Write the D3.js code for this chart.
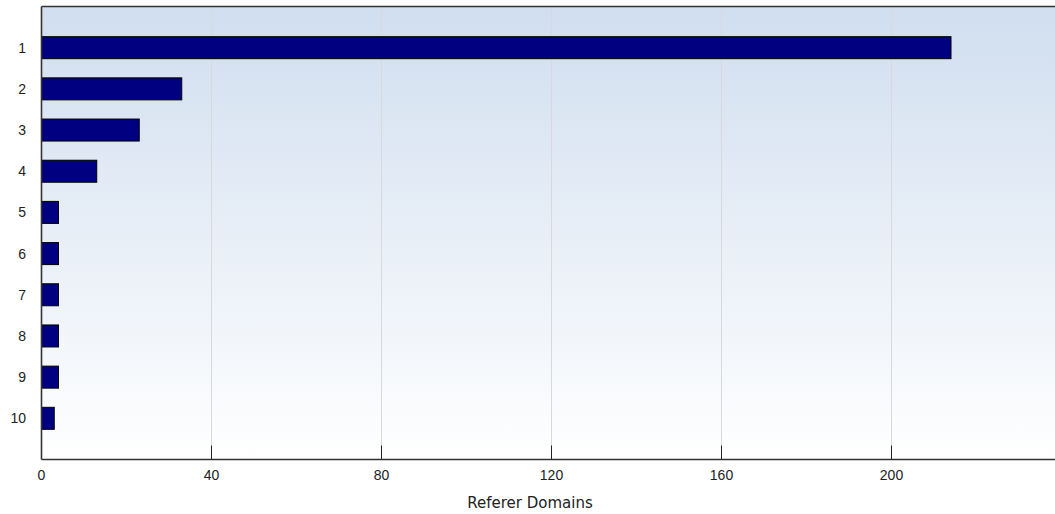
<!DOCTYPE html>
<html><head><meta charset="utf-8">
<script src="https://cdn.jsdelivr.net/npm/d3@7"></script>
<style>html,body{margin:0;padding:0;background:#fff;overflow:hidden}</style>
</head><body>
<svg id="c" width="1055" height="514"></svg>
<script>
const categories = ["1","2","3","4","5","6","7","8","9","10"];
const values = [214, 33, 23, 13, 4, 4, 4, 4, 4, 3];
const xTicks = [0, 40, 80, 120, 160, 200];
const xTitle = "Referer Domains";

const svg = d3.select("#c");
const pL = 41.5, pT = 6.5, pB = 459.5, pR = 1061.5;
const x = d3.scaleLinear().domain([0, 240]).range([pL, pR]);
const y = d3.scalePoint().domain(categories).range([pT, pB]).padding(1);

const defs = svg.append("defs");
const g = defs.append("linearGradient").attr("id","bg").attr("x1",0).attr("y1",0).attr("x2",0).attr("y2",1);
g.append("stop").attr("offset","0%").attr("stop-color","#d0deef");
g.append("stop").attr("offset","100%").attr("stop-color","#ffffff");

svg.append("rect").attr("x",pL).attr("y",pT).attr("width",pR-pL).attr("height",pB-pT).attr("fill","url(#bg)");

// gridlines
svg.append("g").selectAll("line").data(xTicks.slice(1)).join("line")
  .attr("x1",d=>x(d)).attr("x2",d=>x(d)).attr("y1",pT).attr("y2",pB)
  .attr("stroke","#d6d9de").attr("stroke-width",1);
// tick marks
svg.append("g").selectAll("line").data(xTicks.slice(1)).join("line")
  .attr("x1",d=>x(d)).attr("x2",d=>x(d)).attr("y1",pB-14).attr("y2",pB)
  .attr("stroke","#222").attr("stroke-width",1);

// bars
const bh = 22;
svg.append("g").selectAll("rect").data(values).join("rect")
  .attr("x", x(0)).attr("y",(d,i)=>y(categories[i])-bh/2)
  .attr("width",d=>x(d)-x(0)).attr("height",bh)
  .attr("fill","#000080").attr("stroke","#000").attr("stroke-width",1);

// borders
svg.append("line").attr("x1",pL).attr("x2",1055).attr("y1",pT).attr("y2",pT).attr("stroke","#333").attr("stroke-width",1.6);
svg.append("line").attr("x1",pL).attr("x2",pL).attr("y1",pT).attr("y2",pB).attr("stroke","#333").attr("stroke-width",1.6);
svg.append("line").attr("x1",pL).attr("x2",1055).attr("y1",pB).attr("y2",pB).attr("stroke","#333").attr("stroke-width",1.6);

// labels
svg.append("g").selectAll("text").data(xTicks).join("text")
  .attr("x",d=>x(d)).attr("y",480).attr("text-anchor","middle")
  .attr("font-family","Liberation Sans, Arial, sans-serif").attr("font-size",14).attr("fill","#222")
  .text(d=>d);
svg.append("g").selectAll("text").data(categories).join("text")
  .attr("x",26).attr("y",d=>y(d)+5).attr("text-anchor","end")
  .attr("font-family","Liberation Sans, Arial, sans-serif").attr("font-size",14).attr("fill","#222")
  .text(d=>d);
svg.append("text").attr("x",530).attr("y",508).attr("text-anchor","middle")
  .attr("font-family","DejaVu Sans, sans-serif").attr("font-size",15).attr("fill","#222")
  .text(xTitle);
</script>
</body></html>
